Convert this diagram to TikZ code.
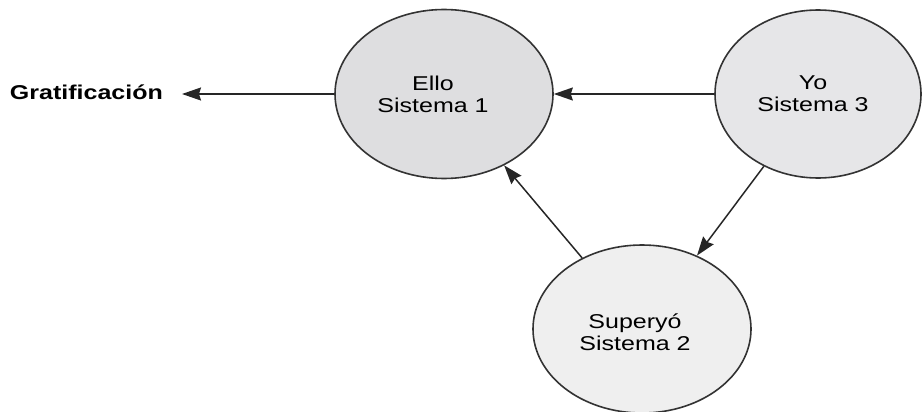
\documentclass[tikz,border=0pt]{standalone}
\usepackage{fontspec}
\setmainfont[FakeStretch=1.25]{Liberation Sans}
\usepackage{tikz}
\usetikzlibrary{shapes.geometric,arrows.meta}
\definecolor{gray1}{HTML}{DEDEE0}
\definecolor{gray2}{HTML}{E6E6E8}
\definecolor{gray3}{HTML}{EFEFEF}
\definecolor{line1}{HTML}{333333}

\begin{document}
\begin{tikzpicture}[x=1pt, y=-1pt, align=center,
  sys/.style={ellipse, draw=line1, line width=1.6pt, inner sep=0pt, minimum width=218pt, minimum height=169pt},
  lbl/.style={font=\fontsize{20}{22}\selectfont, inner sep=0pt},
  flow/.style={-{Stealth[length=19pt, width=13pt, inset=2pt]}, line width=1.5pt, draw=black!85}]
\useasboundingbox (0,0) rectangle (923,412);
\node[sys, fill=gray1] (ello) at (444,94) {};
\node[sys, fill=gray2, minimum width=206pt, minimum height=168pt] (yo) at (818,94) {};
\node[sys, fill=gray3, minimum height=168pt] (super) at (642,329) {};
\node[lbl] at ([xshift=-11pt]ello) {Ello\\Sistema 1};
\node[lbl] at ([xshift=-5pt]yo) {Yo\\Sistema 3};
\node[lbl] at ([xshift=-7pt, yshift=-3pt]super) {Superyó\\Sistema 2};
\node[lbl, font=\fontsize{20}{22}\selectfont\bfseries, anchor=base east] (grat) at (163,99) {Gratificación};
\draw[flow, shorten >=19pt] (ello.west) -- (grat.east |- ello.west);
\draw[flow] (yo.west) -- (ello.east);
\draw[flow] (super) -- (ello);
\draw[flow] (yo) -- (super);
\end{tikzpicture}
\end{document}
